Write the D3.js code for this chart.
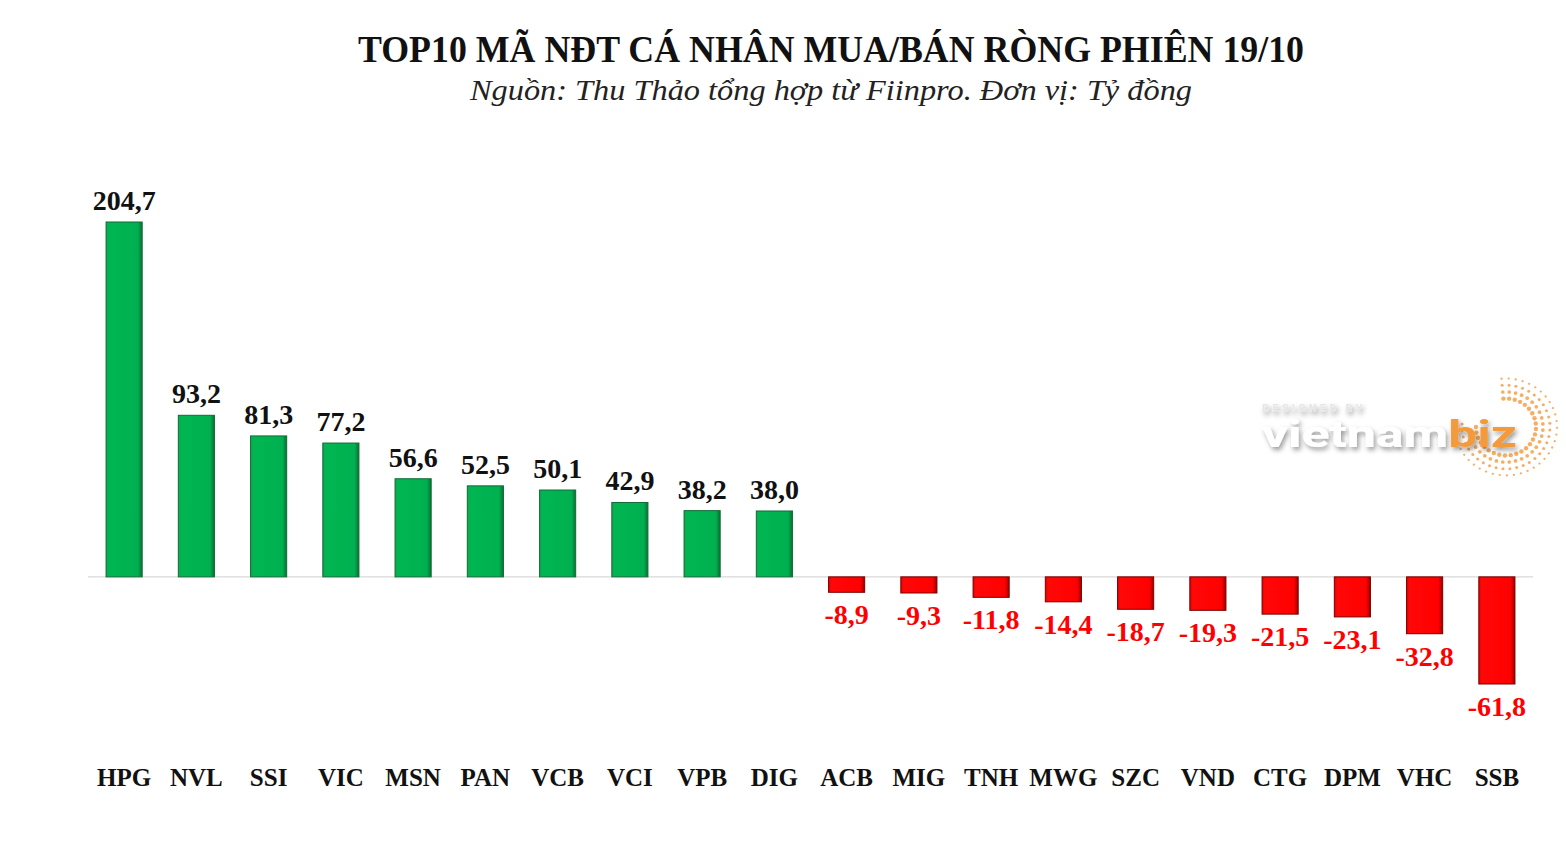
<!doctype html>
<html>
<head>
<meta charset="utf-8">
<script src="https://d3js.org/d3.v7.min.js"></script>
<style>
  body { margin: 0; background: #fff; }
  svg { display: block; }
  text { font-family: "Liberation Serif", "Times New Roman", serif; }
  text.wm { font-family: Roboto, "Open Sans", sans-serif; }
</style>
</head>
<body>
<div id="chart"></div>
<script>
var tickers = ["HPG", "NVL", "SSI", "VIC", "MSN", "PAN", "VCB", "VCI", "VPB", "DIG",
               "ACB", "MIG", "TNH", "MWG", "SZC", "VND", "CTG", "DPM", "VHC", "SSB"];
var values = [204.7, 93.2, 81.3, 77.2, 56.6, 52.5, 50.1, 42.9, 38.2, 38.0,
              -8.9, -9.3, -11.8, -14.4, -18.7, -19.3, -21.5, -23.1, -32.8, -61.8];
var title = "TOP10 MÃ NĐT CÁ NHÂN MUA/BÁN RÒNG PHIÊN 19/10";
var subtitle = "Nguồn: Thu Thảo tổng hợp từ Fiinpro. Đơn vị: Tỷ đồng";

var W = 1566, H = 852;
var data = tickers.map(function(t, i) { return { name: t, v: values[i] }; });

var svg = d3.select("#chart").append("svg")
  .attr("width", W).attr("height", H);

var defs = svg.append("defs");
var gG = defs.append("linearGradient").attr("id", "gGreen").attr("x1", 0).attr("x2", 1);
gG.append("stop").attr("offset", "0%").attr("stop-color", "#12a24c");
gG.append("stop").attr("offset", "8%").attr("stop-color", "#00b652");
gG.append("stop").attr("offset", "88%").attr("stop-color", "#00b050");
gG.append("stop").attr("offset", "100%").attr("stop-color", "#0b6e35");
var gR = defs.append("linearGradient").attr("id", "gRed").attr("x1", 0).attr("x2", 1);
gR.append("stop").attr("offset", "0%").attr("stop-color", "#e00000");
gR.append("stop").attr("offset", "8%").attr("stop-color", "#ff0808");
gR.append("stop").attr("offset", "88%").attr("stop-color", "#ff0000");
gR.append("stop").attr("offset", "100%").attr("stop-color", "#9a0000");
var sh = defs.append("filter").attr("id", "shadow").attr("x", "-10%").attr("y", "-30%")
  .attr("width", "130%").attr("height", "170%");
sh.append("feDropShadow").attr("dx", 2).attr("dy", 3).attr("stdDeviation", 2.5)
  .attr("flood-color", "#000").attr("flood-opacity", 0.4);

var x = d3.scaleBand().domain(tickers).range([88, 1533]).paddingInner(0.5).paddingOuter(0.25);
var y = d3.scaleLinear().domain([-61.8, 204.7]).range([684, 222]);

// title
svg.append("text").attr("x", 831).attr("y", 62).attr("text-anchor", "middle")
  .attr("font-size", 38).attr("font-weight", "bold").attr("fill", "#111")
  .attr("textLength", 946).attr("lengthAdjust", "spacingAndGlyphs")
  .text(title);
svg.append("text").attr("x", 831).attr("y", 100).attr("text-anchor", "middle")
  .attr("font-size", 30).attr("font-style", "italic").attr("fill", "#222")
  .attr("textLength", 722).attr("lengthAdjust", "spacingAndGlyphs")
  .text(subtitle);

// watermark
var wm = svg.append("g").attr("transform", "translate(1262,0)");
var arcPts = [];
[0, 1, 2, 3].forEach(function(r) {
  d3.range(-95, 185, 11 - r).forEach(function(a) {
    var rad = a * Math.PI / 180;
    var R = 30 + r * 7;
    arcPts.push({ x: 244 + R * Math.cos(rad), y: 427 + R * Math.sin(rad) * 0.95, r: 2.2 - r * 0.35 });
  });
});
wm.selectAll("circle").data(arcPts).enter().append("circle")
  .attr("cx", function(d) { return d.x; }).attr("cy", function(d) { return d.y; })
  .attr("r", function(d) { return d.r; }).attr("fill", "#f5a04a").attr("opacity", 0.85);
wm.append("text").attr("class", "wm").attr("x", 0).attr("y", 412)
  .attr("font-size", 11).attr("letter-spacing", 3.2).attr("fill", "#e6e6e6").attr("font-weight", "bold")
  .attr("filter", "url(#shadow)").text("DESIGNED BY");
var wt = wm.append("text").attr("class", "wm").attr("x", 0).attr("y", 447)
  .attr("font-size", 36).attr("font-weight", "bold").attr("filter", "url(#shadow)")
  .attr("textLength", 255).attr("lengthAdjust", "spacingAndGlyphs");
wt.append("tspan").attr("fill", "#ffffff").text("vietnam");
wt.append("tspan").attr("fill", "#f39a3e").text("biz");

// zero line
svg.append("line").attr("x1", 88).attr("x2", 1533)
  .attr("y1", y(0)).attr("y2", y(0)).attr("stroke", "#d9d9d9").attr("stroke-width", 1.2);

// bars
svg.selectAll("rect.bar").data(data).enter().append("rect")
  .attr("class", "bar")
  .attr("x", function(d) { return x(d.name); })
  .attr("width", x.bandwidth())
  .attr("y", function(d) { return y(Math.max(0, d.v)); })
  .attr("height", function(d) { return Math.abs(y(d.v) - y(0)); })
  .attr("fill", function(d) { return d.v >= 0 ? "url(#gGreen)" : "url(#gRed)"; })
  .attr("stroke", function(d) { return d.v >= 0 ? "#116b36" : "#7a0000"; })
  .attr("stroke-width", 1);

// value labels
function fmt(v) { return v.toFixed(1).replace(".", ","); }
svg.selectAll("text.val").data(data).enter().append("text")
  .attr("class", "val")
  .attr("x", function(d) { return x(d.name) + x.bandwidth() / 2; })
  .attr("y", function(d) { return d.v >= 0 ? y(d.v) - 12 : y(d.v) + 32; })
  .attr("text-anchor", "middle").attr("font-size", 28).attr("font-weight", "bold")
  .attr("fill", function(d) { return d.v >= 0 ? "#111" : "#ff0000"; })
  .text(function(d) { return fmt(d.v); });

// category labels
svg.selectAll("text.cat").data(data).enter().append("text")
  .attr("class", "cat")
  .attr("x", function(d) { return x(d.name) + x.bandwidth() / 2; })
  .attr("y", 786)
  .attr("text-anchor", "middle").attr("font-size", 25).attr("font-weight", "bold")
  .attr("fill", "#111")
  .text(function(d) { return d.name; });
</script>
</body>
</html>
